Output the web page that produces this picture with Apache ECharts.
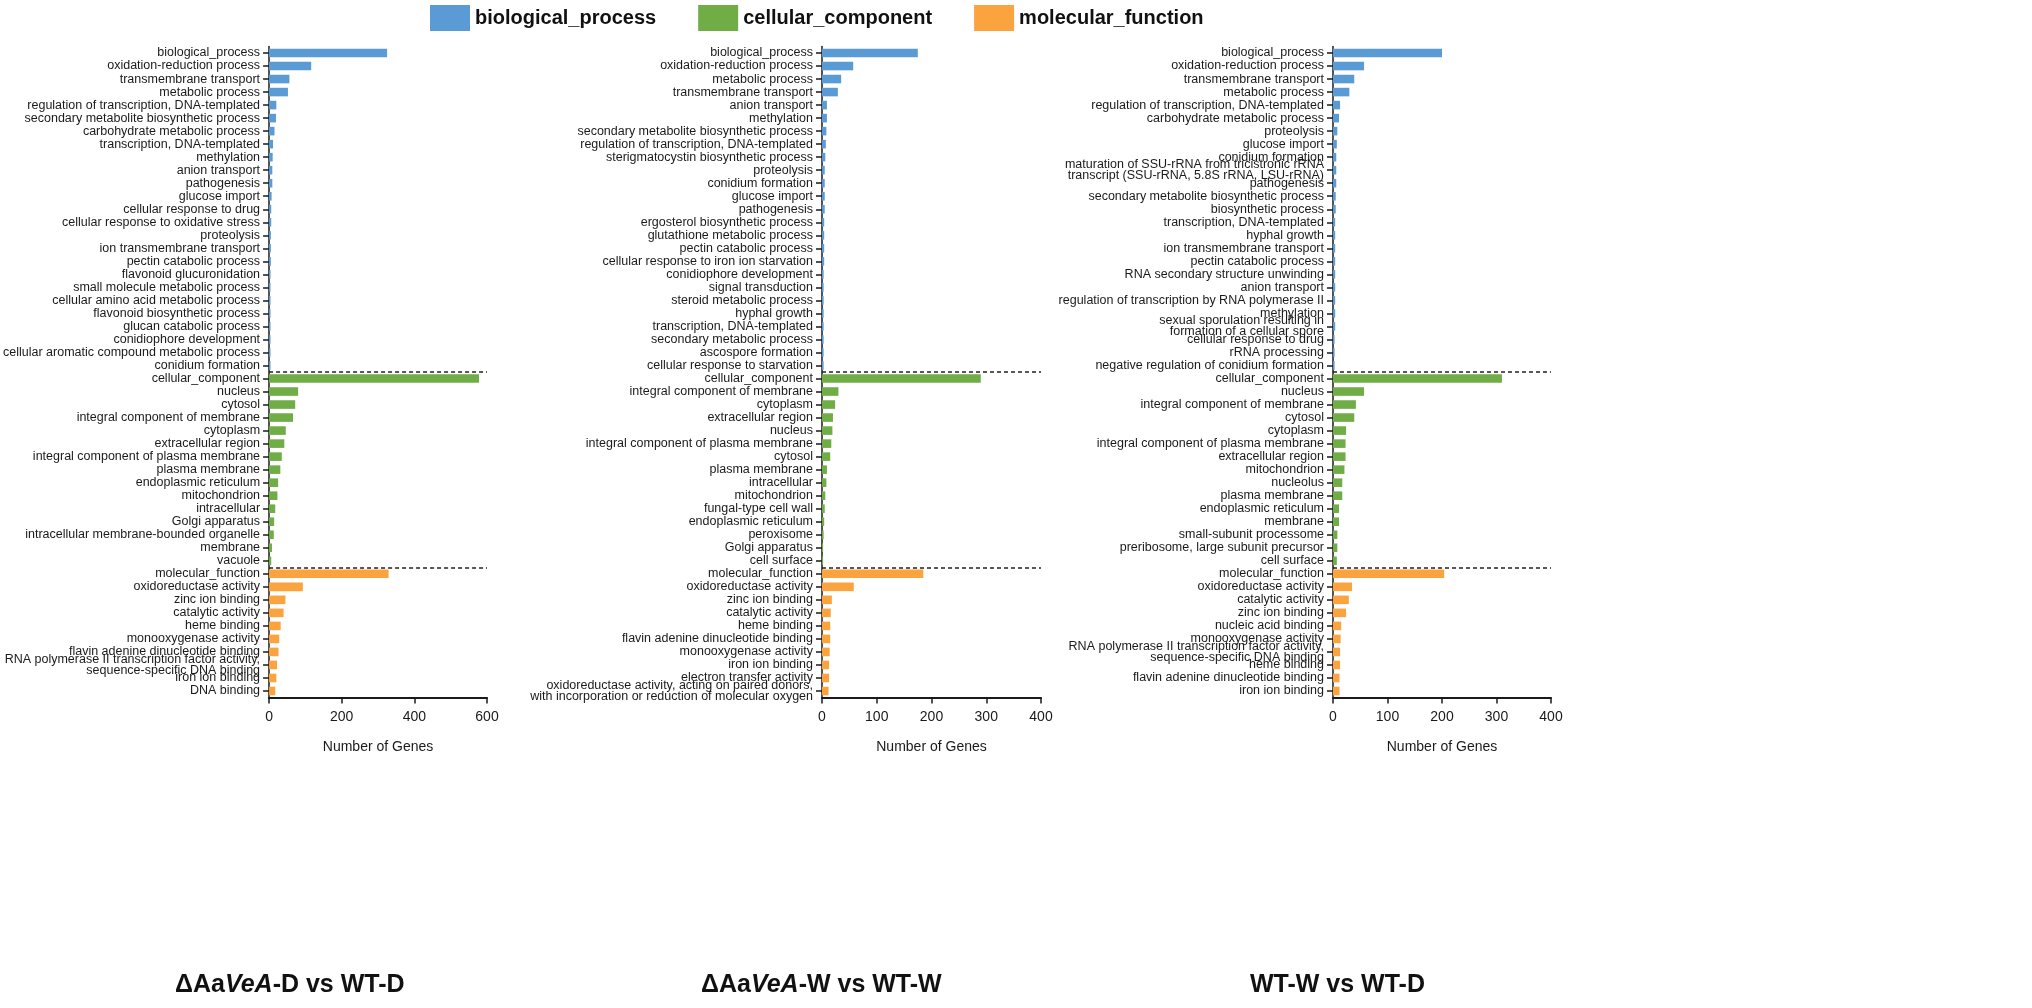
<!DOCTYPE html>
<html>
<head>
<meta charset="utf-8">
<script src="https://cdn.jsdelivr.net/npm/echarts@6/dist/echarts.min.js"></script>
<style>
html,body{margin:0;padding:0;background:#fff;}
#chart{width:2032px;height:1008px;}
</style>
</head>
<body>
<div id="chart"></div>
<script>
// ---------------- DATA ----------------
const groupNames = ['biological_process', 'cellular_component', 'molecular_function'];

// Panel 1: ΔAaVeA-D vs WT-D
const p1BpLabels = ['biological_process','oxidation-reduction process','transmembrane transport','metabolic process','regulation of transcription, DNA-templated','secondary metabolite biosynthetic process','carbohydrate metabolic process','transcription, DNA-templated','methylation','anion transport','pathogenesis','glucose import','cellular response to drug','cellular response to oxidative stress','proteolysis','ion transmembrane transport','pectin catabolic process','flavonoid glucuronidation','small molecule metabolic process','cellular amino acid metabolic process','flavonoid biosynthetic process','glucan catabolic process','conidiophore development','cellular aromatic compound metabolic process','conidium formation'];
const p1BpValues = [325,116,56,52,20,19,15,11,10,9,9,7,6,6,5,5,5,4,4,4,4,4,4,4,4];
const p1CcLabels = ['cellular_component','nucleus','cytosol','integral component of membrane','cytoplasm','extracellular region','integral component of plasma membrane','plasma membrane','endoplasmic reticulum','mitochondrion','intracellular','Golgi apparatus','intracellular membrane-bounded organelle','membrane','vacuole'];
const p1CcValues = [578,80,72,66,46,42,35,31,25,23,17,14,13,8,6];
const p1MfLabels = ['molecular_function','oxidoreductase activity','zinc ion binding','catalytic activity','heme binding','monooxygenase activity','flavin adenine dinucleotide binding','RNA polymerase II transcription factor activity,\nsequence-specific DNA binding','iron ion binding','DNA binding'];
const p1MfValues = [329,93,45,40,32,28,26,22,20,17];

// Panel 2: ΔAaVeA-W vs WT-W
const p2BpLabels = ['biological_process','oxidation-reduction process','metabolic process','transmembrane transport','anion transport','methylation','secondary metabolite biosynthetic process','regulation of transcription, DNA-templated','sterigmatocystin biosynthetic process','proteolysis','conidium formation','glucose import','pathogenesis','ergosterol biosynthetic process','glutathione metabolic process','pectin catabolic process','cellular response to iron ion starvation','conidiophore development','signal transduction','steroid metabolic process','hyphal growth','transcription, DNA-templated','secondary metabolic process','ascospore formation','cellular response to starvation'];
const p2BpValues = [175,57,35,29,9,9,8,7,6,5,5,5,5,4,4,4,4,3,3,3,3,3,3,3,3];
const p2CcLabels = ['cellular_component','integral component of membrane','cytoplasm','extracellular region','nucleus','integral component of plasma membrane','cytosol','plasma membrane','intracellular','mitochondrion','fungal-type cell wall','endoplasmic reticulum','peroxisome','Golgi apparatus','cell surface'];
const p2CcValues = [290,30,24,20,19,17,15,9,8,6,5,4,3,2,2];
const p2MfLabels = ['molecular_function','oxidoreductase activity','zinc ion binding','catalytic activity','heme binding','flavin adenine dinucleotide binding','monooxygenase activity','iron ion binding','electron transfer activity','oxidoreductase activity, acting on paired donors,\nwith incorporation or reduction of molecular oxygen'];
const p2MfValues = [185,58,18,16,15,15,14,13,13,12];

// Panel 3: WT-W vs WT-D
const p3BpLabels = ['biological_process','oxidation-reduction process','transmembrane transport','metabolic process','regulation of transcription, DNA-templated','carbohydrate metabolic process','proteolysis','glucose import','conidium formation','maturation of SSU-rRNA from tricistronic rRNA\ntranscript (SSU-rRNA, 5.8S rRNA, LSU-rRNA)','pathogenesis','secondary metabolite biosynthetic process','biosynthetic process','transcription, DNA-templated','hyphal growth','ion transmembrane transport','pectin catabolic process','RNA secondary structure unwinding','anion transport','regulation of transcription by RNA polymerase II','methylation','sexual sporulation resulting in\nformation of a cellular spore','cellular response to drug','rRNA processing','negative regulation of conidium formation'];
const p3BpValues = [200,57,39,30,13,11,8,7,6,6,6,5,5,4,4,4,4,4,4,4,4,4,3,3,3];
const p3CcLabels = ['cellular_component','nucleus','integral component of membrane','cytosol','cytoplasm','integral component of plasma membrane','extracellular region','mitochondrion','nucleolus','plasma membrane','endoplasmic reticulum','membrane','small-subunit processome','preribosome, large subunit precursor','cell surface'];
const p3CcValues = [310,57,42,39,24,23,23,21,17,17,11,11,8,8,7];
const p3MfLabels = ['molecular_function','oxidoreductase activity','catalytic activity','zinc ion binding','nucleic acid binding','monooxygenase activity','RNA polymerase II transcription factor activity,\nsequence-specific DNA binding','heme binding','flavin adenine dinucleotide binding','iron ion binding'];
const p3MfValues = [204,35,29,24,15,14,13,13,12,12];

const p1Ticks = {max: 600, interval: 200};
const p2Ticks = {max: 400, interval: 100};
const p3Ticks = {max: 400, interval: 100};

// ---------------- STYLE / LAYOUT ----------------
const colors = ['#5B9BD5', '#70AD47', '#FBA33F'];
const ink = '#1a1a1a';
const font = 'Liberation Sans, Arial, sans-serif';

const panels = [
  {labels: [p1BpLabels, p1CcLabels, p1MfLabels], values: [p1BpValues, p1CcValues, p1MfValues], ticks: p1Ticks, left: 268, width: 219},
  {labels: [p2BpLabels, p2CcLabels, p2MfLabels], values: [p2BpValues, p2CcValues, p2MfValues], ticks: p2Ticks, left: 822, width: 219},
  {labels: [p3BpLabels, p3CcLabels, p3MfLabels], values: [p3BpValues, p3CcValues, p3MfValues], ticks: p3Ticks, left: 1333, width: 218}
];

const grids = [], xAxes = [], yAxes = [], series = [];
panels.forEach((p, i) => {
  const cats = [].concat(p.labels[0], p.labels[1], p.labels[2]);
  const b1 = p.labels[0].length;
  const b2 = b1 + p.labels[1].length;
  grids.push({left: p.left, width: p.width, top: 46.5, height: 651, containLabel: false});
  xAxes.push({
    type: 'value', gridIndex: i, min: 0, max: p.ticks.max, interval: p.ticks.interval,
    axisLine: {show: true, lineStyle: {color: ink, width: 2}},
    axisTick: {show: true, length: 6, lineStyle: {color: ink, width: 1.5}},
    splitLine: {show: false},
    axisLabel: {fontSize: 14, color: ink, margin: 13, fontFamily: font},
    name: 'Number of Genes', nameLocation: 'middle', nameGap: 43,
    nameTextStyle: {fontSize: 14, color: ink, fontFamily: font}
  });
  yAxes.push({
    type: 'category', gridIndex: i, inverse: true, data: cats,
    axisLine: {show: true, lineStyle: {color: ink, width: 1.5}},
    axisTick: {show: true, alignWithLabel: true, length: 6, lineStyle: {color: ink, width: 1.5}},
    axisLabel: {interval: 0, fontSize: 12.5, color: ink, lineHeight: 11, margin: 9, fontFamily: font},
    splitLine: {show: true, interval: (idx) => idx === b1 || idx === b2,
      lineStyle: {type: [4, 3], color: '#222', width: 1.5}}
  });
  for (let g = 0; g < 3; g++) {
    const data = [];
    for (let k = 0; k < 3; k++) {
      p.values[k].forEach(v => data.push(k === g ? v : '-'));
    }
    series.push({
      type: 'bar', name: groupNames[g], xAxisIndex: i, yAxisIndex: i,
      data: data, barWidth: '66%', barGap: '-100%',
      itemStyle: {color: colors[g]}, animation: false, silent: true
    });
  }
});

const titleRich = {
  n: {fontSize: 25, fontWeight: 'bold', color: '#111', fontFamily: font},
  i: {fontSize: 25, fontWeight: 'bold', fontStyle: 'italic', color: '#111', fontFamily: font}
};

const option = {
  backgroundColor: '#fff',
  animation: false,
  color: colors,
  title: [
    {text: '{n|ΔAa}{i|VeA}{n|-D vs WT-D}', left: 170, top: 968, textStyle: {rich: titleRich}},
    {text: '{n|ΔAa}{i|VeA}{n|-W vs WT-W}', left: 696, top: 968, textStyle: {rich: titleRich}},
    {text: '{n|WT-W vs WT-D}', left: 1245, top: 968, textStyle: {rich: titleRich}}
  ],
  legend: {
    data: groupNames, top: 0, left: 425, icon: 'rect',
    itemWidth: 40, itemHeight: 26, itemGap: 42,
    textStyle: {fontSize: 20, fontWeight: 'bold', color: '#111', fontFamily: font}
  },
  grid: grids, xAxis: xAxes, yAxis: yAxes, series: series
};

const chart = echarts.init(document.getElementById('chart'), null, {renderer: 'canvas'});
chart.setOption(option);
</script>
</body>
</html>
